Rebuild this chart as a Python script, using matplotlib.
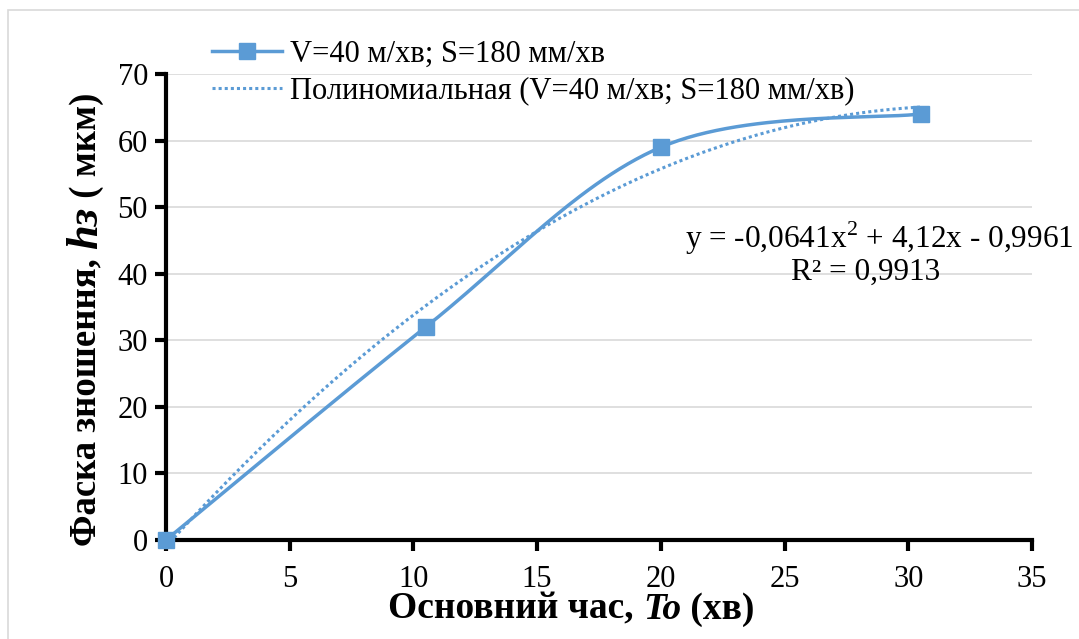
import numpy as np
import matplotlib.pyplot as plt
from matplotlib.patches import Rectangle
from matplotlib.lines import Line2D

# data
t_min = [0, 10.5, 20, 30.5]
wear = [0, 32, 59, 64]
poly = [-0.0641, 4.12, -0.9961]   # trendline coefficients (x^2, x, 1)
series_name = "V=40 м/хв; S=180 мм/хв"
trend_name = "Полиномиальная (V=40 м/хв; S=180 мм/хв)"
eq_text = "y = -0,0641x$^2$ + 4,12x - 0,9961"
r2_text = "R² = 0,9913"

blue = "#5B9BD5"
plt.rcParams['font.family'] = ['Liberation Serif', 'DejaVu Serif']
plt.rcParams['mathtext.fontset'] = 'custom'
plt.rcParams['mathtext.rm'] = 'Liberation Serif'


def smooth(xs, ys, n=60):
    # excel-like bezier smoothing through the points
    p = np.column_stack([xs, ys]).astype(float)
    pts = np.vstack([p[0], p, p[-1]])
    out = []
    s = np.linspace(0, 1, n)[:, None]
    for i in range(1, len(pts) - 2):
        p0, p1 = pts[i], pts[i + 1]
        c1 = p0 + (pts[i + 1] - pts[i - 1]) / 6
        c2 = p1 - (pts[i + 2] - pts[i]) / 6
        seg = ((1 - s) ** 3) * p0 + 3 * ((1 - s) ** 2) * s * c1 + 3 * (1 - s) * s ** 2 * c2 + s ** 3 * p1
        out.append(seg)
    out = np.vstack(out)
    return out[:, 0], out[:, 1]


fig = plt.figure(figsize=(10.79, 6.39), dpi=100)
fig.patches.append(Rectangle((0.007, -0.1), 1.1, 1.085, transform=fig.transFigure,
                             fill=False, edgecolor="#d9d9d9", lw=1.2))
ax = fig.add_axes([0.1538, 0.1549, 0.8026, 0.7293])

sx, sy = smooth(t_min, wear)
ax.plot(sx, sy, color=blue, lw=2.5, zorder=3)
ax.plot(t_min, wear, ls="none", marker="s", ms=12, color=blue, zorder=4, clip_on=False)

xt = np.linspace(t_min[0], t_min[-1], 200)
ax.plot(xt, np.polyval(poly, xt), color=blue, lw=2.2, ls=(0, (1, 1)), zorder=2)

ax.set_xlim(0, 35)
ax.set_ylim(0, 70)
ax.set_xticks(range(0, 36, 5))
ax.set_yticks(range(0, 71, 10))
ax.grid(axis="y", color="#d9d9d9", lw=1.2)
ax.set_axisbelow(True)
for s in ["top", "right"]:
    ax.spines[s].set_visible(False)
for s in ["left", "bottom"]:
    ax.spines[s].set_linewidth(3)
ax.tick_params(width=3, length=8, labelsize=22, direction="out", pad=5)
ax.tick_params(axis="x", pad=10)

# x label in pieces so "To" is italic
xl1 = fig.text(0.36, 0.032, "Основний час, ", fontsize=27, fontweight="bold", ha="left", va="baseline")
xl2 = ax.annotate("To", xy=(1, 0), xycoords=xl1, fontsize=27, fontweight="bold",
                  style="italic", ha="left", va="bottom")
xl3 = ax.annotate(" (хв)", xy=(1, 0), xycoords=xl2, fontsize=27, fontweight="bold",
                  ha="left", va="bottom")

# y label in pieces so "hз" is italic
yl1 = fig.text(0.08, 0.145, "Фаска зношення, ", fontsize=26.5, fontweight="bold",
               rotation=90, ha="center", va="bottom")
yl2 = ax.annotate("hз", xy=(0.5, 1), xycoords=yl1, fontsize=32, fontweight="bold",
                  style="italic", rotation=90, ha="center", va="bottom")
yl3 = ax.annotate(" ( мкм)", xy=(0.5, 1), xycoords=yl2, fontsize=26.5, fontweight="bold",
                  rotation=90, ha="center", va="bottom")

ax.text(0.815, 0.628, eq_text, transform=fig.transFigure, fontsize=22.5, ha="center", va="center")
ax.text(0.802, 0.574, r2_text, transform=fig.transFigure, fontsize=22.5, ha="center", va="center")

handles = [Line2D([], [], color=blue, lw=2.5, marker="s", ms=12),
           Line2D([], [], color=blue, lw=2.2, ls=(0, (1, 1)))]
fig.legend(handles, [series_name, trend_name], loc="upper left",
           bbox_to_anchor=(0.182, 0.962), frameon=False, fontsize=22,
           handlelength=2.3, handletextpad=0.25, labelspacing=0.25, borderpad=0)

fig.savefig("out.png", dpi=100)
